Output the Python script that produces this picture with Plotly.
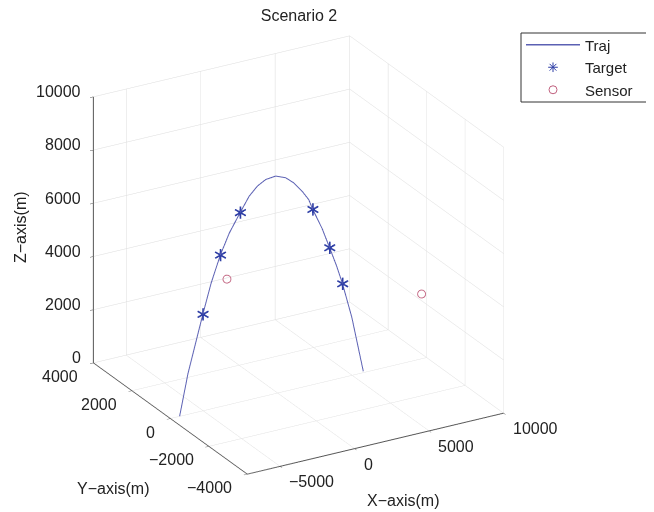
import plotly.graph_objects as go

# Trajectory, in the y=0 plane
traj_x = [-6580, -6020, -5020, -4467, -3846, -3247, -2513, -1913, -1353, -800,
          -133, 533, 1087, 1646, 2087, 2354, 2980, 3487, 3980, 4353, 4980, 5750]
traj_y = [0] * len(traj_x)
traj_z = [0, 1530, 3630, 4720, 5700, 6440, 7120, 7650, 7960, 8130,
          8170, 8020, 7750, 7360, 6990, 6590, 5790, 5000, 4210, 3530, 2180, 50]

target_x = [-5020, -3846, -2513, 2354, 3487, 4353]
target_y = [0, 0, 0, 0, 0, 0]
target_z = [3630, 5700, 7120, 6590, 5000, 3530]

sensor_x = [-3420, 9647]
sensor_y = [0, 0]
sensor_z = [4740, 2440]

x_range = [-7200, 10000]
y_range = [-4000, 4000]
z_range = [0, 10000]
x_ticks = [-5000, 0, 5000, 10000]
y_ticks = [-4000, -2000, 0, 2000, 4000]
z_ticks = [0, 2000, 4000, 6000, 8000, 10000]

# page body has an 8px margin: figure is sized to fit the 654x512 window
OFF = 8
W, H = 654 - OFF, 512 - OFF
FONT = "Liberation Sans"
TXT = "#222222"
LINE_C = "#5b60b3"
TARGET_C = "#2f3fa6"
SENSOR_C = "#c0607e"


def px(x):
    return (x - OFF) / W


def py(y):
    return 1 - (y - OFF) / H


fig = go.Figure()
fig.add_trace(go.Scatter3d(x=traj_x, y=traj_y, z=traj_z, mode="lines",
                           line=dict(color=LINE_C, width=2), name="Traj",
                           showlegend=False))
fig.add_trace(go.Scatter3d(x=target_x, y=target_y, z=target_z, mode="text",
                           text=["\u2217"] * len(target_x),
                           textposition="middle center",
                           textfont=dict(family="DejaVu Sans", size=20, color=TARGET_C),
                           name="Target", showlegend=False))
fig.add_trace(go.Scatter3d(x=sensor_x, y=sensor_y, z=sensor_z, mode="markers",
                           marker=dict(symbol="circle-open", size=5, color=SENSOR_C),
                           name="Sensor", showlegend=False))

# legend-only entries
fig.add_trace(go.Scatter(x=[None], y=[None], mode="lines", name="Traj",
                         line=dict(color=LINE_C, width=1.5)))
fig.add_trace(go.Scatter(x=[None], y=[None], mode="markers", name="Target",
                         marker=dict(symbol="asterisk-open", size=8, color=TARGET_C,
                                     line=dict(color=TARGET_C, width=1))))
fig.add_trace(go.Scatter(x=[None], y=[None], mode="markers", name="Sensor",
                         marker=dict(symbol="circle-open", size=8, color=SENSOR_C,
                                     line=dict(color=SENSOR_C, width=1))))

axis_common = dict(
    showbackground=False, showgrid=True, gridcolor="#dcdcdc", gridwidth=1,
    zeroline=False, showline=True, linecolor="#555555", linewidth=2,
    ticks="outside", ticklen=4, tickcolor="#555555",
    showticklabels=False, title=dict(text=""), showspikes=False,
    tickmode="array",
)

# tick labels as horizontal text placed at the tick positions
ann3d = []
tf = dict(family=FONT, size=16, color=TXT)
for v in x_ticks:
    ann3d.append(dict(x=v, y=y_range[0], z=z_range[0], text=str(v).replace("-", "\u2212"),
                      showarrow=False, xanchor="left", yanchor="middle",
                      xshift=7, yshift=-16, font=tf))
for v in y_ticks:
    ann3d.append(dict(x=x_range[0], y=v, z=z_range[0], text=str(v).replace("-", "\u2212"),
                      showarrow=False, xanchor="right", yanchor="middle",
                      xshift=-13, yshift=-14, font=tf))
for v in z_ticks:
    ann3d.append(dict(x=x_range[0], y=y_range[1], z=v, text=str(v),
                      showarrow=False, xanchor="right", yanchor="middle",
                      xshift=-10, yshift=5, font=tf))

fig.update_layout(
    width=W, height=H,
    paper_bgcolor="white", plot_bgcolor="white",
    margin=dict(l=0, r=0, t=0, b=0),
    font=dict(family=FONT, size=16, color=TXT),
    title=dict(text="Scenario 2", x=px(299), xanchor="center",
               y=py(15), yanchor="middle",
               font=dict(family=FONT, size=16, color=TXT)),
    xaxis=dict(visible=False), yaxis=dict(visible=False),
    scene=dict(
        domain=dict(x=[0, 581 / W], y=[10.4 / H, 1.0]),
        xaxis=dict(axis_common, range=x_range, tickvals=x_ticks),
        yaxis=dict(axis_common, range=y_range, tickvals=y_ticks),
        zaxis=dict(axis_common, range=z_range, tickvals=z_ticks),
        aspectmode="manual",
        aspectratio=dict(x=1.196, y=1.252, z=1.184),
        camera=dict(projection=dict(type="orthographic"),
                    up=dict(x=0, y=0, z=1), center=dict(x=0, y=0, z=0),
                    eye=dict(x=-0.4528 * 2, y=-0.7893 * 2, z=0.4147 * 2)),
        annotations=ann3d,
    ),
    legend=dict(x=px(521), xanchor="left", y=py(28.5), yanchor="top",
                borderwidth=0, bgcolor="rgba(0,0,0,0)",
                font=dict(family=FONT, size=15, color=TXT),
                tracegroupgap=0, itemwidth=54),
    shapes=[dict(type="rect", xref="paper", yref="paper",
                 x0=px(521), x1=px(647), y0=py(102), y1=py(33),
                 line=dict(color="#333333", width=1), fillcolor="white",
                 layer="below")],
    annotations=[
        dict(text="Z\u2212axis(m)", x=px(20), y=py(227), xref="paper", yref="paper",
             xanchor="center", yanchor="middle",
             showarrow=False, textangle=-90, font=dict(size=16)),
        dict(text="Y\u2212axis(m)", x=px(113), y=py(488), xref="paper", yref="paper",
             xanchor="center", yanchor="middle",
             showarrow=False, font=dict(size=16)),
        dict(text="X\u2212axis(m)", x=px(403), y=py(500), xref="paper", yref="paper",
             xanchor="center", yanchor="middle",
             showarrow=False, font=dict(size=16)),
    ],
)

fig.write_html("out.html")
